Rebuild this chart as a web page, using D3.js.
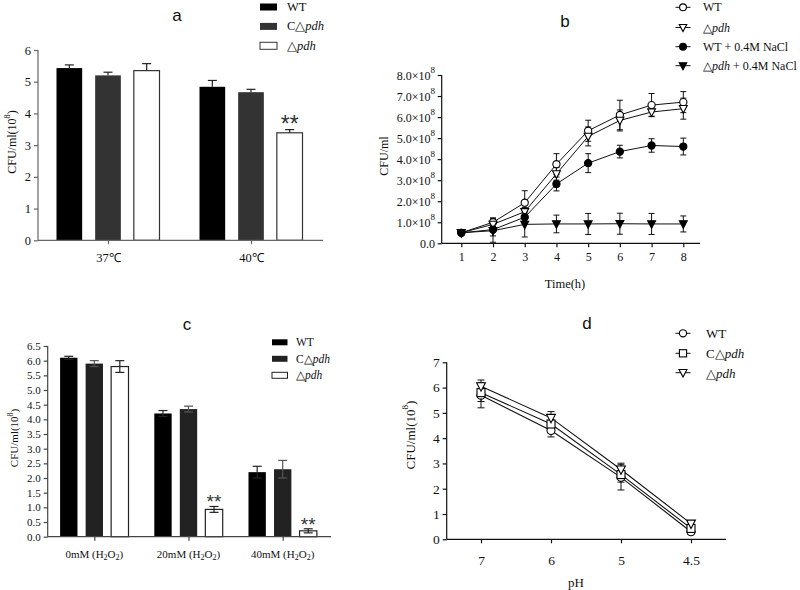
<!DOCTYPE html>
<html><head><meta charset="utf-8">
<script src="https://cdn.jsdelivr.net/npm/d3@7"></script>
<style>body{margin:0;background:#fff}svg{display:block}</style>
</head><body>
<svg id="c" width="800" height="590"></svg>
<script>
// ---------- DATA ----------
// Panel a
const aGroups = ["37℃", "40℃"];
const aSeriesNames = ["WT", "C△pdh", "△pdh"];
const aWT = [5.43, 4.84], aWTerr = [0.1, 0.2];
const aC = [5.2, 4.67], aCerr = [0.1, 0.09];
const aD = [5.35, 3.39], aDerr = [0.22, 0.1];
const aTicks = [0, 1, 2, 3, 4, 5, 6];
// Panel b
const bTime = [1, 2, 3, 4, 5, 6, 7, 8];
const bWT = [0.5, 1.0, 1.93, 3.76, 5.35, 6.1, 6.57, 6.71];
const bWTerr = [0.05, 0.2, 0.57, 0.5, 0.5, 0.7, 0.55, 0.5];
const bD = [0.5, 0.9, 1.5, 3.3, 5.08, 5.84, 6.24, 6.4];
const bDerr = [0.05, 0.3, 0.2, 0.3, 0.45, 0.5, 0.2, 0.5];
const bWTNa = [0.5, 0.65, 1.24, 2.82, 3.81, 4.36, 4.65, 4.6];
const bWTNaerr = [0.05, 0.3, 0.2, 0.33, 0.45, 0.3, 0.32, 0.4];
const bDNa = [0.5, 0.6, 0.9, 0.92, 0.92, 0.93, 0.92, 0.92];
const bDNaerr = [0.05, 0.55, 0.6, 0.42, 0.5, 0.5, 0.5, 0.38];
const bTicks = [0, 1, 2, 3, 4, 5, 6, 7, 8];
// Panel c
const cGroups = ["0mM", "20mM", "40mM"];
const cWT = [6.1, 4.2, 2.2], cWTerr = [0.05, 0.1, 0.2];
const cC = [5.9, 4.35, 2.3], cCerr = [0.1, 0.1, 0.3];
const cD = [5.8, 0.93, 0.2], cDerr = [0.2, 0.1, 0.07];
const cTicks = [0, 0.5, 1, 1.5, 2, 2.5, 3, 3.5, 4, 4.5, 5, 5.5, 6, 6.5];
// Panel d
const dPH = ["7", "6", "5", "4.5"];
const dWT = [5.7, 4.3, 2.45, 0.3], dWTerr = [0.5, 0.25, 0.5, 0.1];
const dC = [5.8, 4.56, 2.56, 0.43], dCerr = [0.35, 0.3, 0.3, 0.1];
const dD = [6.05, 4.8, 2.76, 0.62], dDerr = [0.25, 0.25, 0.25, 0.08];
const dTicks = [0, 1, 2, 3, 4, 5, 6, 7];

// ---------- HELPERS ----------
const svg = d3.select("#c");
const SERIF = "'Liberation Serif','Times New Roman',serif";
const SANS = "'Liberation Sans',Arial,sans-serif";

function pdhLabel(sel, prefix, suffix) {
  sel.append("tspan").text(prefix);
  sel.append("tspan").attr("font-style", "italic").text("pdh");
  if (suffix) sel.append("tspan").text(suffix);
}
function seriesLabel(sel, name) {
  if (name === "C△pdh") pdhLabel(sel, "C△");
  else if (name === "△pdh") pdhLabel(sel, "△");
  else if (name === "△pdh + 0.4M NaCl") pdhLabel(sel, "△", " + 0.4M NaCl");
  else sel.text(name);
}
function cfuLabel(g, x, y, size) {
  const t = g.append("text").attr("transform", `translate(${x},${y}) rotate(-90)`)
    .attr("text-anchor", "middle").attr("dominant-baseline", "central")
    .attr("font-family", SERIF).attr("font-size", size).attr("fill", "#111");
  t.append("tspan").text("CFU/ml(10");
  t.append("tspan").attr("font-size", size * 0.7).attr("dy", -size * 0.4).text("8");
  t.append("tspan").attr("dy", size * 0.4).text(")");
}
function title(x, y, s) {
  svg.append("text").attr("x", x).attr("y", y).attr("text-anchor", "middle")
    .attr("dominant-baseline", "central").attr("font-family", SANS)
    .attr("font-size", 17).attr("fill", "#111").text(s);
}
function styleAxis(g, color, fs) {
  g.selectAll("path,line").attr("stroke", color).attr("stroke-width", 1.2);
  g.selectAll("text").attr("font-family", SERIF).attr("font-size", fs).attr("fill", "#111");
}

// ---------- PANEL A ----------
(function () {
  const y = d3.scaleLinear().domain([0, 6]).range([240.3, 50]);
  const x0 = d3.scalePoint().domain(aGroups).range([36.5, 322.5]).padding(0.5);
  const x1 = d3.scaleBand().domain(aSeriesNames).range([-51.5, 51.5]).paddingInner(0.336);
  const fills = ["#000", "#333", "#fff"];
  const vals = [aWT, aC, aD], errs = [aWTerr, aCerr, aDerr];
  const g = svg.append("g");
  const axC = "#666";
  const ya = g.append("g").attr("transform", "translate(38,0)")
    .call(d3.axisLeft(y).tickValues(aTicks).tickFormat(d3.format("d")).tickSize(4).tickSizeOuter(0));
  styleAxis(ya, axC, 12.5);
  ya.select(".domain").attr("d", `M0,${y(6)}V${y(0)}`);
  aSeriesNames.forEach((s, si) => {
    aGroups.forEach((grp, gi) => {
      const v = vals[si][gi], e = errs[si][gi];
      const cx = x0(grp) + x1(s) + x1.bandwidth() / 2;
      g.append("rect").attr("x", x0(grp) + x1(s)).attr("width", x1.bandwidth())
        .attr("y", y(v)).attr("height", y(0) - y(v))
        .attr("fill", fills[si]).attr("stroke", si === 2 ? "#333" : "none").attr("stroke-width", 1.2);
      g.append("line").attr("x1", cx).attr("x2", cx).attr("y1", y(v)).attr("y2", y(v + e)).attr("stroke", "#222").attr("stroke-width", 1.2);
      g.append("line").attr("x1", cx - 4.5).attr("x2", cx + 4.5).attr("y1", y(v + e)).attr("y2", y(v + e)).attr("stroke", "#222").attr("stroke-width", 1.2);
    });
  });
  const xa = g.append("g").attr("transform", `translate(0,${y(0)})`)
    .call(d3.axisBottom(x0).tickSize(4).tickSizeOuter(0).tickPadding(9));
  styleAxis(xa, axC, 12.5);
  xa.select(".domain").attr("d", "M38,0H323");
  const cxs = x0(aGroups[1]) + x1("△pdh") + x1.bandwidth() / 2;
  g.append("text").attr("x", cxs).attr("y", y(aD[1] + aDerr[1]) + 2).attr("text-anchor", "middle")
    .attr("font-family", SANS).attr("font-size", 23).attr("fill", "#333").text("**");
  cfuLabel(g, 12, 142, 12);
  title(177, 15, "a");
  aSeriesNames.forEach((s, i) => {
    const ly = 7 + i * 19.4;
    g.append("rect").attr("x", 260).attr("y", ly - 3.5).attr("width", 17).attr("height", 7)
      .attr("fill", fills[i]).attr("stroke", i === 2 ? "#333" : "none");
    const t = g.append("text").attr("x", 287).attr("y", ly).attr("dominant-baseline", "central")
      .attr("font-family", SERIF).attr("font-size", 12.5).attr("fill", "#111");
    seriesLabel(t, s);
  });
})();

// ---------- PANEL C ----------
(function () {
  const y = d3.scaleLinear().domain([0, 6.5]).range([536.7, 346]);
  const x0 = d3.scalePoint().domain(cGroups).range([47.2, 329.8]).padding(0.5);
  const x1 = d3.scaleBand().domain(aSeriesNames).range([-34.2, 34.2]).paddingInner(0.32);
  const fills = ["#000", "#222", "#fff"];
  const vals = [cWT, cC, cD], errs = [cWTerr, cCerr, cDerr];
  const g = svg.append("g");
  const ya = g.append("g").attr("transform", "translate(47.7,0)")
    .call(d3.axisLeft(y).tickValues(cTicks).tickFormat(d3.format(".1f")).tickSize(4).tickSizeOuter(0));
  styleAxis(ya, "#444", 11);
  ya.select(".domain").attr("d", `M0,${y(6.5)}V${y(0)}`);
  aSeriesNames.forEach((s, si) => {
    cGroups.forEach((grp, gi) => {
      const v = vals[si][gi], e = errs[si][gi];
      const cx = x0(grp) + x1(s) + x1.bandwidth() / 2;
      g.append("rect").attr("x", x0(grp) + x1(s)).attr("width", x1.bandwidth())
        .attr("y", y(v)).attr("height", y(0) - y(v))
        .attr("fill", fills[si]).attr("stroke", si === 2 ? "#222" : "none").attr("stroke-width", 1.2);
      const ec = si === 1 ? "#555" : "#222";
      g.append("line").attr("x1", cx).attr("x2", cx).attr("y1", y(v - e)).attr("y2", y(v + e)).attr("stroke", ec).attr("stroke-width", 1.2);
      [v - e, v + e].forEach(yy => g.append("line").attr("x1", cx - 4.5).attr("x2", cx + 4.5)
        .attr("y1", y(yy)).attr("y2", y(yy)).attr("stroke", ec).attr("stroke-width", 1.2));
    });
  });
  const xa = g.append("g").attr("transform", `translate(0,${y(0)})`)
    .call(d3.axisBottom(x0).tickSize(4).tickSizeOuter(0).tickFormat(() => ""));
  styleAxis(xa, "#444", 11);
  xa.select(".domain").attr("d", "M47.7,0H331");
  cGroups.forEach(grp => {
    const t = g.append("text").attr("x", x0(grp)).attr("y", 554).attr("text-anchor", "middle")
      .attr("dominant-baseline", "central").attr("font-family", SERIF).attr("font-size", 11).attr("fill", "#111");
    t.append("tspan").text(grp + " (H");
    t.append("tspan").attr("font-size", 8).attr("dy", 3).text("2");
    t.append("tspan").attr("dy", -3).text("O");
    t.append("tspan").attr("font-size", 8).attr("dy", 3).text("2");
    t.append("tspan").attr("dy", -3).text(")");
  });
  [1, 2].forEach(gi => {
    const cx = x0(cGroups[gi]) + x1("△pdh") + x1.bandwidth() / 2;
    g.append("text").attr("x", cx).attr("y", y(cD[gi] + cDerr[gi]) + 2).attr("text-anchor", "middle")
      .attr("font-family", SANS).attr("font-size", 19).attr("fill", "#333").text("**");
  });
  cfuLabel(g, 14, 438, 11);
  title(187, 324, "c");
  aSeriesNames.forEach((s, i) => {
    const ly = 342.3 + i * 16.5;
    g.append("rect").attr("x", 272).attr("y", ly - 3).attr("width", 15.5).attr("height", 6)
      .attr("fill", fills[i]).attr("stroke", i === 2 ? "#222" : "none");
    const t = g.append("text").attr("x", 296).attr("y", ly).attr("dominant-baseline", "central")
      .attr("font-family", SERIF).attr("font-size", 11.5).attr("fill", "#111");
    seriesLabel(t, s);
  });
})();

// ---------- MARKERS ----------
function marker(g, type, cx, cy, r) {
  if (type === "circle" || type === "circleF") {
    g.append("circle").attr("cx", cx).attr("cy", cy).attr("r", r)
      .attr("fill", type === "circleF" ? "#000" : "#fff").attr("stroke", "#000").attr("stroke-width", 1.1);
  } else if (type === "square") {
    g.append("rect").attr("x", cx - r).attr("y", cy - r).attr("width", 2 * r).attr("height", 2 * r)
      .attr("fill", "#fff").attr("stroke", "#000").attr("stroke-width", 1.1);
  } else {
    const h = r * 1.1;
    g.append("path").attr("d", `M${cx - r * 1.1},${cy - h * 0.8}L${cx + r * 1.1},${cy - h * 0.8}L${cx},${cy + h * 1.1}Z`)
      .attr("fill", type === "triF" ? "#000" : "#fff").attr("stroke", "#000").attr("stroke-width", 1.1);
  }
}

// ---------- PANEL B ----------
(function () {
  const x = d3.scaleLinear().domain([1, 8]).range([461.3, 683.3]);
  const y = d3.scaleLinear().domain([0, 8]).range([243.3, 75]);
  const g = svg.append("g");
  const ya = g.append("g").attr("transform", "translate(441.7,0)")
    .call(d3.axisLeft(y).tickValues(bTicks).tickSize(4).tickSizeOuter(0).tickFormat(() => ""));
  styleAxis(ya, "#111", 12);
  ya.select(".domain").attr("d", `M0,${y(8)}V${y(0)}`);
  bTicks.forEach(v => {
    const t = g.append("text").attr("x", 435).attr("y", y(v) + 1).attr("text-anchor", "end")
      .attr("dominant-baseline", "central").attr("font-family", SERIF).attr("font-size", 12).attr("fill", "#111");
    if (v === 0) t.text("0.0");
    else {
      t.append("tspan").text(v.toFixed(1) + "×10");
      t.append("tspan").attr("font-size", 9).attr("dy", -6).text("8");
    }
  });
  const xa = g.append("g").attr("transform", `translate(0,${y(0)})`)
    .call(d3.axisBottom(x).tickValues(bTime).tickFormat(d3.format("d")).tickSize(4).tickSizeOuter(0).tickPadding(5));
  styleAxis(xa, "#111", 12);
  xa.select(".domain").attr("d", "M441.7,0H700");
  const series = [
    { v: bWT, e: bWTerr, m: "circle" },
    { v: bD, e: bDerr, m: "tri" },
    { v: bWTNa, e: bWTNaerr, m: "circleF" },
    { v: bDNa, e: bDNaerr, m: "triF" }
  ];
  const line = d3.line().x((d, i) => x(bTime[i])).y(d => y(d));
  series.forEach(s => {
    g.append("path").attr("d", line(s.v)).attr("fill", "none").attr("stroke", "#111").attr("stroke-width", 1);
    s.v.forEach((v, i) => {
      const cx = x(bTime[i]), e = s.e[i];
      g.append("line").attr("x1", cx).attr("x2", cx).attr("y1", y(v - e)).attr("y2", y(v + e)).attr("stroke", "#111");
      [v - e, v + e].forEach(yy => g.append("line").attr("x1", cx - 3).attr("x2", cx + 3).attr("y1", y(yy)).attr("y2", y(yy)).attr("stroke", "#111"));
    });
  });
  series.forEach(s => s.v.forEach((v, i) => marker(g, s.m, x(bTime[i]), y(v), 3.6)));
  g.append("text").attr("x", 565).attr("y", 284).attr("text-anchor", "middle")
    .attr("dominant-baseline", "central").attr("font-family", SERIF).attr("font-size", 12.5).attr("fill", "#111").text("Time(h)");
  g.append("text").attr("transform", "translate(384,156) rotate(-90)").attr("text-anchor", "middle")
    .attr("dominant-baseline", "central").attr("font-family", SERIF).attr("font-size", 12).attr("fill", "#111").text("CFU/ml");
  title(565, 21, "b");
  const names = ["WT", "△pdh", "WT + 0.4M NaCl", "△pdh + 0.4M NaCl"];
  const rows = [7.3, 27.5, 46.7, 65.7];
  series.forEach((s, i) => {
    g.append("line").attr("x1", 675.5).attr("x2", 690.5).attr("y1", rows[i]).attr("y2", rows[i]).attr("stroke", "#111");
    marker(g, s.m, 683, rows[i], 3.4);
    const tx = g.append("text").attr("x", 703).attr("y", rows[i]).attr("dominant-baseline", "central")
      .attr("font-family", SERIF).attr("font-size", 12).attr("fill", "#111");
    seriesLabel(tx, names[i]);
  });
})();

// ---------- PANEL D ----------
(function () {
  const x = d3.scalePoint().domain(dPH).range([481, 691]);
  const y = d3.scaleLinear().domain([0, 7]).range([539.3, 362.3]);
  const g = svg.append("g");
  const ya = g.append("g").attr("transform", "translate(446.7,0)")
    .call(d3.axisLeft(y).tickValues(dTicks).tickFormat(d3.format("d")).tickSize(4).tickSizeOuter(0));
  styleAxis(ya, "#111", 13.5);
  ya.select(".domain").attr("d", `M0,${y(7)}V${y(0)}`);
  const xa = g.append("g").attr("transform", `translate(0,${y(0)})`)
    .call(d3.axisBottom(x).tickSize(4).tickSizeOuter(0).tickPadding(12));
  styleAxis(xa, "#111", 13.5);
  xa.select(".domain").attr("d", "M446.7,0H726");
  const series = [
    { v: dWT, e: dWTerr, m: "circle" },
    { v: dC, e: dCerr, m: "square" },
    { v: dD, e: dDerr, m: "tri" }
  ];
  const line = d3.line().x((d, i) => x(dPH[i])).y(d => y(d));
  series.forEach(s => {
    g.append("path").attr("d", line(s.v)).attr("fill", "none").attr("stroke", "#111").attr("stroke-width", 1.1);
    s.v.forEach((v, i) => {
      const cx = x(dPH[i]), e = s.e[i];
      g.append("line").attr("x1", cx).attr("x2", cx).attr("y1", y(v - e)).attr("y2", y(v + e)).attr("stroke", "#111");
      [v - e, v + e].forEach(yy => g.append("line").attr("x1", cx - 3.5).attr("x2", cx + 3.5).attr("y1", y(yy)).attr("y2", y(yy)).attr("stroke", "#111"));
    });
  });
  series.forEach(s => s.v.forEach((v, i) => marker(g, s.m, x(dPH[i]), y(v), 4)));
  g.append("text").attr("x", 576).attr("y", 582.5).attr("text-anchor", "middle")
    .attr("dominant-baseline", "central").attr("font-family", SERIF).attr("font-size", 13).attr("fill", "#111").text("pH");
  cfuLabel(g, 410, 435, 13);
  title(587, 323, "d");
  const names = ["WT", "C△pdh", "△pdh"];
  const rows = [333.3, 353.3, 372.7];
  series.forEach((s, i) => {
    g.append("line").attr("x1", 675.5).attr("x2", 690.5).attr("y1", rows[i]).attr("y2", rows[i]).attr("stroke", "#111");
    marker(g, s.m, 683, rows[i], 3.6);
    const tx = g.append("text").attr("x", 706).attr("y", rows[i]).attr("dominant-baseline", "central")
      .attr("font-family", SERIF).attr("font-size", 13).attr("fill", "#111");
    seriesLabel(tx, names[i]);
  });
})();
</script>
</body></html>
